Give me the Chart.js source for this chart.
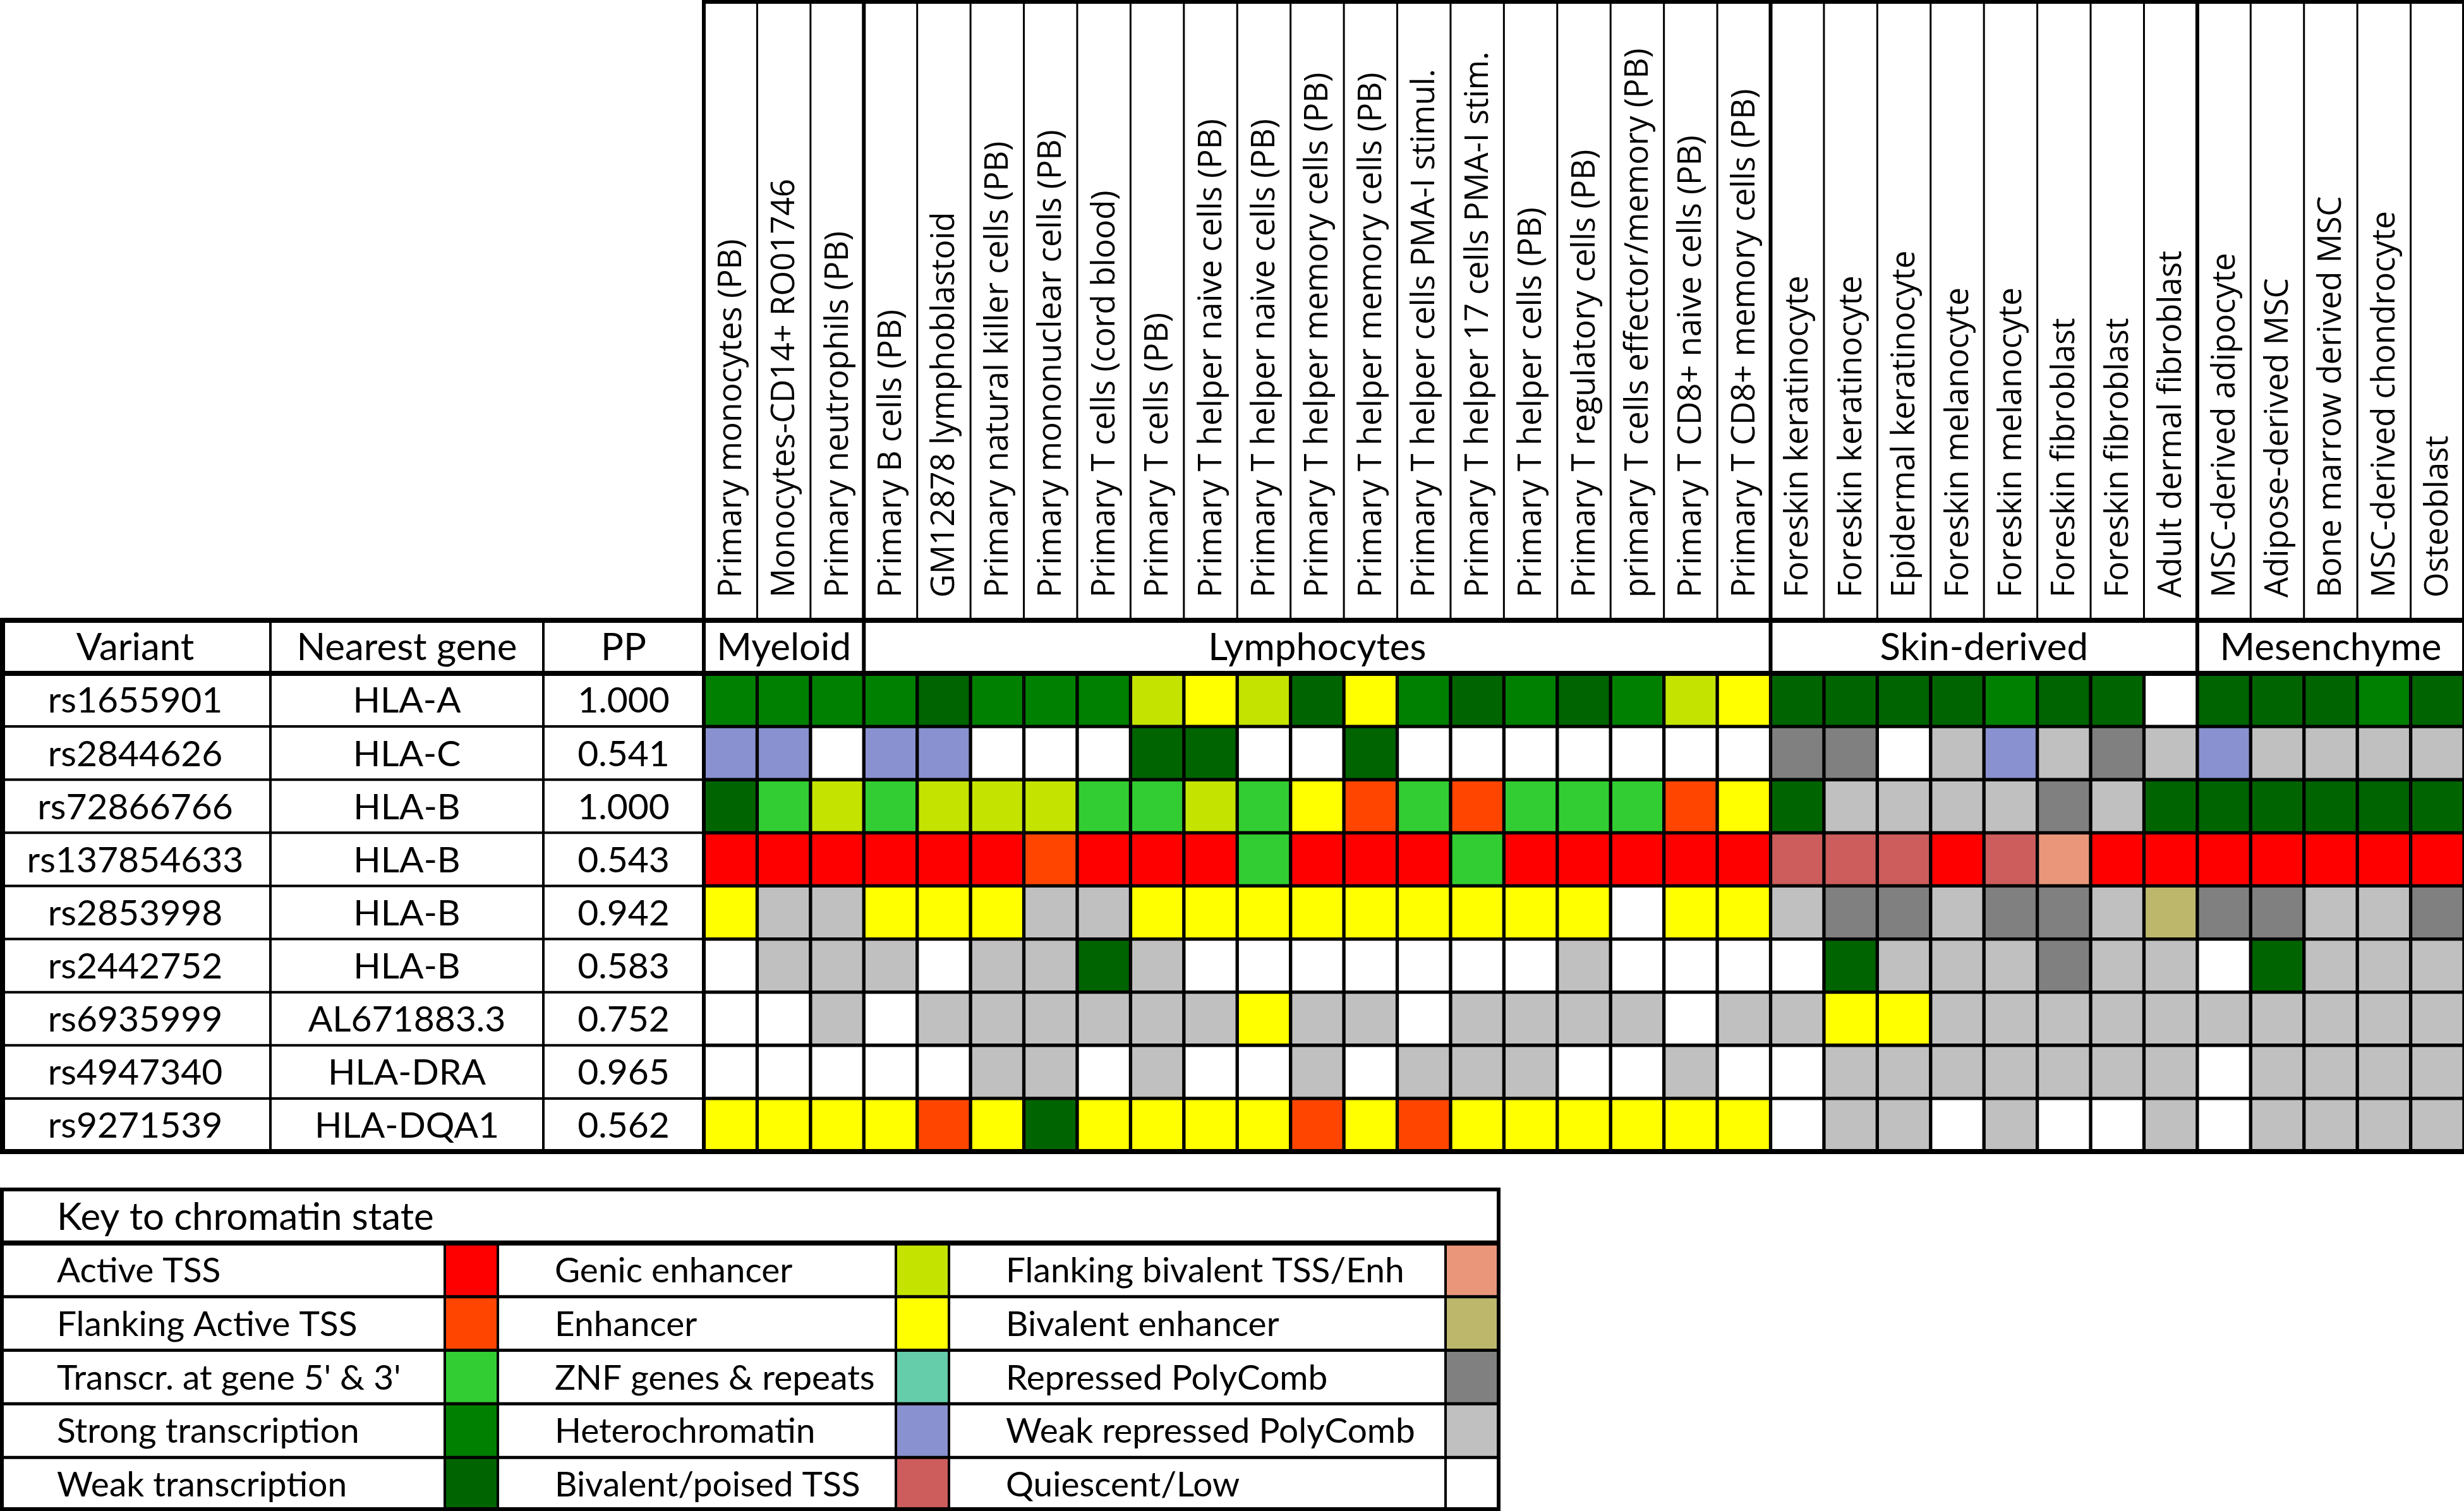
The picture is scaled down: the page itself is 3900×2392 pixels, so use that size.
<!DOCTYPE html>
<html>
<head>
<meta charset="utf-8">
<title>Chromatin states at HLA variants</title>
<script src="https://cdn.jsdelivr.net/npm/chart.js@4.4.1/dist/chart.umd.min.js"></script>
<style>
    html, body { margin: 0; padding: 0; background: #ffffff; }
    canvas { display: block; }
</style>
</head>
<body>
<canvas id="chromatinChart" width="3900" height="2392"></canvas>
<script>
// Variants (rows)
const variants = ['rs1655901', 'rs2844626', 'rs72866766', 'rs137854633', 'rs2853998',
    'rs2442752', 'rs6935999', 'rs4947340', 'rs9271539'];
const nearestGenes = ['HLA-A', 'HLA-C', 'HLA-B', 'HLA-B', 'HLA-B', 'HLA-B', 'AL671883.3', 'HLA-DRA', 'HLA-DQA1'];
const ppValues = ['1.000', '0.541', '1.000', '0.543', '0.942', '0.583', '0.752', '0.965', '0.562'];

// Cell types (columns)
const cellTypes = [
    'Primary monocytes (PB)', 'Monocytes-CD14+ RO01746', 'Primary neutrophils (PB)',
    'Primary B cells (PB)', 'GM12878 lymphoblastoid', 'Primary natural killer cells (PB)',
    'Primary mononuclear cells (PB)', 'Primary T cells (cord blood)', 'Primary T cells (PB)',
    'Primary T helper naive cells (PB)', 'Primary T helper naive cells (PB)',
    'Primary T helper memory cells (PB)', 'Primary T helper memory cells (PB)',
    'Primary T helper cells PMA-I stimul.', 'Primary T helper 17 cells PMA-I stim.',
    'Primary T helper cells (PB)', 'Primary T regulatory cells (PB)',
    'primary T cells effector/memory (PB)', 'Primary T CD8+ naive cells (PB)',
    'Primary T CD8+ memory cells (PB)',
    'Foreskin keratinocyte', 'Foreskin keratinocyte', 'Epidermal keratinocyte',
    'Foreskin melanocyte', 'Foreskin melanocyte', 'Foreskin fibroblast', 'Foreskin fibroblast',
    'Adult dermal fibroblast',
    'MSC-derived adipocyte', 'Adipose-derived MSC', 'Bone marrow derived MSC',
    'MSC-derived chondrocyte', 'Osteoblast'
];
const groupNames = ['Myeloid', 'Lymphocytes', 'Skin-derived', 'Mesenchyme'];
const groupSizes = [3, 17, 8, 5];

// Key to chromatin state (state number = index + 1)
const stateNames = [
    'Active TSS', 'Flanking Active TSS', "Transcr. at gene 5' & 3'", 'Strong transcription',
    'Weak transcription', 'Genic enhancer', 'Enhancer', 'ZNF genes & repeats',
    'Heterochromatin', 'Bivalent/poised TSS', 'Flanking bivalent TSS/Enh', 'Bivalent enhancer',
    'Repressed PolyComb', 'Weak repressed PolyComb', 'Quiescent/Low'
];
const stateColors = [
    '#ff0000', '#ff4500', '#32cd32', '#008000', '#006400', '#c4e400', '#ffff00', '#66cdaa',
    '#8a91d0', '#cd5c5c', '#e9967a', '#bdb76b', '#808080', '#c0c0c0', '#ffffff'
];

// Chromatin state per variant, one entry per cell type
const chromatinStates = [
    [4, 4, 4, 4, 5, 4, 4, 4, 6, 7, 6, 5, 7, 4, 5, 4, 5, 4, 6, 7, 5, 5, 5, 5, 4, 5, 5, 15, 5, 5, 5, 4, 5],
    [9, 9, 15, 9, 9, 15, 15, 15, 5, 5, 15, 15, 5, 15, 15, 15, 15, 15, 15, 15, 13, 13, 15, 14, 9, 14, 13, 14, 9, 14, 14, 14, 14],
    [5, 3, 6, 3, 6, 6, 6, 3, 3, 6, 3, 7, 2, 3, 2, 3, 3, 3, 2, 7, 5, 14, 14, 14, 14, 13, 14, 5, 5, 5, 5, 5, 5],
    [1, 1, 1, 1, 1, 1, 2, 1, 1, 1, 3, 1, 1, 1, 3, 1, 1, 1, 1, 1, 10, 10, 10, 1, 10, 11, 1, 1, 1, 1, 1, 1, 1],
    [7, 14, 14, 7, 7, 7, 14, 14, 7, 7, 7, 7, 7, 7, 7, 7, 7, 15, 7, 7, 14, 13, 13, 14, 13, 13, 14, 12, 13, 13, 14, 14, 13],
    [15, 14, 14, 14, 15, 14, 14, 5, 14, 15, 15, 15, 15, 15, 15, 15, 14, 15, 15, 15, 15, 5, 14, 14, 14, 13, 14, 14, 15, 5, 14, 14, 14],
    [15, 15, 14, 15, 14, 14, 14, 14, 14, 14, 7, 14, 14, 15, 14, 14, 14, 14, 15, 14, 14, 7, 7, 14, 14, 14, 14, 14, 14, 14, 14, 14, 14],
    [15, 15, 15, 15, 15, 14, 14, 15, 14, 15, 15, 14, 15, 14, 14, 14, 15, 15, 14, 15, 15, 14, 14, 14, 14, 14, 14, 14, 15, 14, 14, 14, 14],
    [7, 7, 7, 7, 2, 7, 5, 7, 7, 7, 7, 2, 7, 2, 7, 7, 7, 7, 7, 7, 15, 14, 14, 15, 14, 15, 15, 14, 15, 14, 14, 14, 14]
];

// Layout (pixels)
const TABLE_FONT = '57px Lato, "Liberation Sans", sans-serif';
const BAND_FONT = '60px Lato, "Liberation Sans", sans-serif';
const KEY_FONT = '55px Lato, "Liberation Sans", sans-serif';
const KEY_TITLE_FONT = '60px Lato, "Liberation Sans", sans-serif';
const HEADER_FONT = '51px "Open Sans", "Noto Sans", sans-serif';
const leftColumns = [0, 428, 860];          // left table column edges, last edge = grid left
const legendColumns = [0, 704, 788, 1418, 1502, 2288, 2375];

function drawLine(ctx, x1, y1, x2, y2, w) {
    ctx.beginPath();
    ctx.lineWidth = w;
    ctx.moveTo(x1, y1);
    ctx.lineTo(x2, y2);
    ctx.stroke();
}

// Draws table frame, headers, left table and the key
const tableDecorPlugin = {
    id: 'tableDecor',
    afterDatasetsDraw(chart) {
        const ctx = chart.ctx;
        const xScale = chart.scales.x;
        const yScale = chart.scales.y;
        const area = chart.chartArea;
        const W = chart.width;
        const rowH = area.height / variants.length;
        const colEdge = i => xScale.getPixelForValue(i);
        const rowTop = j => yScale.getPixelForValue(j) - rowH / 2;
        const bandTop = area.top - rowH;
        const gridLeft = colEdge(0);

        ctx.save();
        ctx.strokeStyle = '#000000';
        ctx.fillStyle = '#000000';

        // group boundaries (column indices)
        const bounds = [0];
        groupSizes.forEach(s => bounds.push(bounds[bounds.length - 1] + s));

        // Header box
        drawLine(ctx, gridLeft, 3, W, 3, 6);
        for (let i = 0; i <= cellTypes.length; i++) {
            const thick = bounds.includes(i);
            drawLine(ctx, colEdge(i), 0, colEdge(i), bandTop, thick ? 6 : 3);
        }
        ctx.font = HEADER_FONT;
        ctx.textAlign = 'left';
        ctx.textBaseline = 'middle';
        cellTypes.forEach((name, i) => {
            const cx = (colEdge(i) + colEdge(i + 1)) / 2;
            ctx.save();
            ctx.translate(cx + 2, bandTop - 36);
            ctx.rotate(-Math.PI / 2);
            ctx.fillText(name, 0, 0);
            ctx.restore();
        });

        // Band row
        ctx.font = BAND_FONT;
        ctx.textAlign = 'center';
        const bandMid = bandTop + rowH / 2 + 2;
        const heads = ['Variant', 'Nearest gene', 'PP'];
        const leftEdges = leftColumns.concat([gridLeft]);
        heads.forEach((h, k) => ctx.fillText(h, (leftEdges[k] + leftEdges[k + 1]) / 2, bandMid));
        groupNames.forEach((g, k) => {
            ctx.fillText(g, (colEdge(bounds[k]) + colEdge(bounds[k + 1])) / 2, bandMid);
        });
        bounds.forEach(b => drawLine(ctx, colEdge(b), bandTop, colEdge(b), area.top, 6));

        // Left table rows
        ctx.font = TABLE_FONT;
        variants.forEach((v, j) => {
            const cy = yScale.getPixelForValue(j) + 2;
            ctx.fillText(v, (leftEdges[0] + leftEdges[1]) / 2, cy);
            ctx.fillText(nearestGenes[j], (leftEdges[1] + leftEdges[2]) / 2, cy);
            ctx.fillText(ppValues[j], (leftEdges[2] + leftEdges[3]) / 2, cy);
            if (j > 0) drawLine(ctx, 0, rowTop(j), gridLeft, rowTop(j), 4);
        });
        drawLine(ctx, 4, bandTop, 4, area.bottom, 8);
        drawLine(ctx, leftEdges[1], bandTop, leftEdges[1], area.bottom, 4);
        drawLine(ctx, leftEdges[2], bandTop, leftEdges[2], area.bottom, 4);
        drawLine(ctx, gridLeft, bandTop, gridLeft, area.bottom, 6);

        // Horizontal frame lines
        drawLine(ctx, 0, bandTop, W, bandTop, 8);
        drawLine(ctx, 0, area.top, W, area.top, 8);
        drawLine(ctx, 0, area.bottom, W, area.bottom, 8);

        // Key to chromatin state
        const legTop = area.bottom + 60;
        const legRowH = (chart.height - legTop) / 6;
        const legRight = legendColumns[legendColumns.length - 1];
        const perCol = 5;
        ctx.font = KEY_FONT;
        ctx.textAlign = 'left';
        for (let s = 0; s < stateNames.length; s++) {
            const c = Math.floor(s / perCol);
            const r = s % perCol;
            const y0 = legTop + legRowH * (r + 1);
            ctx.fillStyle = stateColors[s];
            ctx.fillRect(legendColumns[2 * c + 1], y0, legendColumns[2 * c + 2] - legendColumns[2 * c + 1], legRowH);
            ctx.fillStyle = '#000000';
            ctx.fillText(stateNames[s], legendColumns[2 * c] + 90, y0 + legRowH / 2 + 2);
        }
        ctx.font = KEY_TITLE_FONT;
        ctx.fillText('Key to chromatin state', 90, legTop + legRowH / 2 + 2);
        for (let r = 1; r < 6; r++) {
            drawLine(ctx, 0, legTop + legRowH * r, legRight, legTop + legRowH * r, r === 1 ? 8 : 5);
        }
        for (let k = 1; k < legendColumns.length - 1; k++) {
            drawLine(ctx, legendColumns[k], legTop + legRowH, legendColumns[k], chart.height, 4);
        }
        ctx.lineWidth = 6;
        ctx.strokeRect(3, legTop, legRight - 6, chart.height - legTop - 3);

        ctx.restore();
    }
};

// One stacked bar dataset per cell type; each cell is one unit wide
const datasets = cellTypes.map((name, c) => ({
    label: name,
    data: variants.map(() => 1),
    backgroundColor: chromatinStates.map(row => stateColors[row[c] - 1]),
    borderColor: '#000000',
    borderWidth: 3,
    borderSkipped: false,
    barPercentage: 1,
    categoryPercentage: 1
}));

new Chart(document.getElementById('chromatinChart').getContext('2d'), {
    type: 'bar',
    data: { labels: variants, datasets: datasets },
    options: {
        indexAxis: 'y',
        responsive: false,
        devicePixelRatio: 1,
        animation: false,
        events: [],
        layout: { padding: { left: 1114, top: 1066, right: 0, bottom: 569 } },
        plugins: {
            legend: { display: false },
            tooltip: { enabled: false }
        },
        scales: {
            x: { stacked: true, min: 0, max: cellTypes.length, display: false },
            y: { stacked: true, display: false }
        }
    },
    plugins: [tableDecorPlugin]
});
</script>
</body>
</html>
